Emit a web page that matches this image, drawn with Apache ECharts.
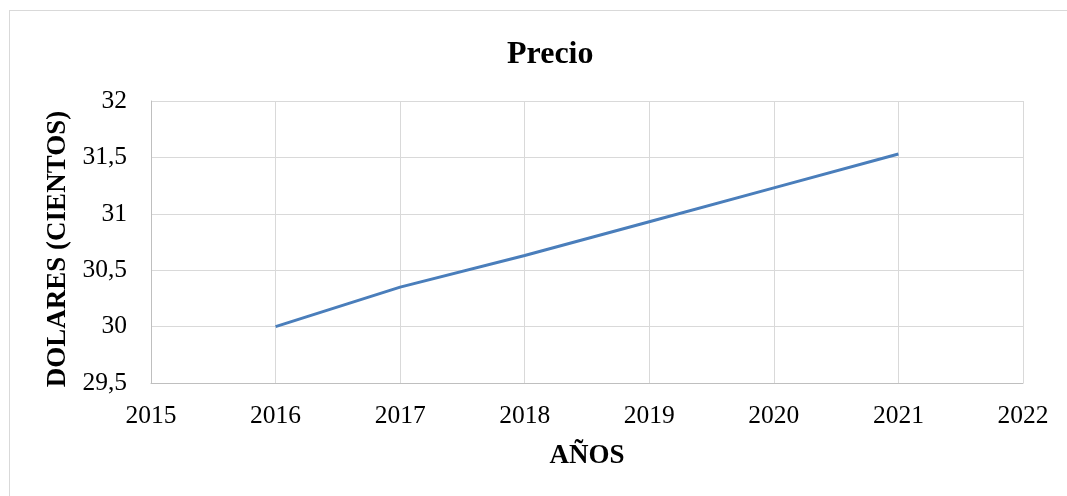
<!DOCTYPE html>
<html lang="es">
<head>
    <meta charset="UTF-8">
    <title>Precio</title>
    <script src="https://cdn.jsdelivr.net/npm/echarts@6/dist/echarts.min.js"></script>
    <style>
        body { margin: 0; background: #fff; }
        #frame { position: absolute; left: 9px; top: 10px; width: 1070px; height: 500px; border: 1px solid #d9d9d9; box-sizing: border-box; }
        #main { position: absolute; left: 0; top: 0; width: 1067px; height: 496px; }
    </style>
</head>
<body>
<div id="frame"></div>
<div id="main"></div>
<script>
    // años y precio (cientos de dólares)
    let years = [2016, 2017, 2018, 2019, 2020, 2021];
    let prices = [30.0, 30.35, 30.63, 30.93, 31.23, 31.53];

    let chart = echarts.init(document.getElementById('main'));
    let font = '"Liberation Serif", "Times New Roman", serif';

    let option = {
        animation: false,
        title: {
            text: 'Precio',
            left: 502,
            top: 34,
            textStyle: { fontFamily: font, fontSize: 32, fontWeight: 'bold', color: '#000' }
        },
        grid: { left: 151, right: 44, top: 101, bottom: 113 },
        xAxis: {
            type: 'value',
            min: 2015,
            max: 2022,
            interval: 1,
            name: 'AÑOS',
            nameLocation: 'middle',
            nameGap: 60,
            nameTextStyle: { fontFamily: font, fontSize: 27, fontWeight: 'bold', color: '#000' },
            axisLine: { lineStyle: { color: '#bfbfbf', width: 1 } },
            axisTick: { show: false },
            axisLabel: {
                fontFamily: font, fontSize: 25.5, color: '#000', margin: 20,
                formatter: v => String(v)
            },
            splitLine: { show: true, lineStyle: { color: '#d9d9d9', width: 1 } }
        },
        yAxis: {
            type: 'value',
            min: 29.5,
            max: 32,
            interval: 0.5,
            name: 'DOLARES (CIENTOS)',
            nameLocation: 'middle',
            nameGap: 74,
            nameTextStyle: { fontFamily: font, fontSize: 27, fontWeight: 'bold', color: '#000', padding: [0, 14, 0, 0] },
            axisLine: { show: true, lineStyle: { color: '#bfbfbf', width: 1 } },
            axisTick: { show: false },
            axisLabel: {
                fontFamily: font, fontSize: 25.5, color: '#000', margin: 24,
                formatter: v => String(v).replace('.', ',')
            },
            splitLine: { show: true, lineStyle: { color: '#d9d9d9', width: 1 } }
        },
        series: [
            {
                type: 'line',
                name: 'Precio',
                data: years.map((y, i) => [y, prices[i]]),
                showSymbol: false,
                lineStyle: { color: '#4a7ebb', width: 3 },
                itemStyle: { color: '#4a7ebb' }
            }
        ]
    };

    chart.setOption(option);
</script>
</body>
</html>
